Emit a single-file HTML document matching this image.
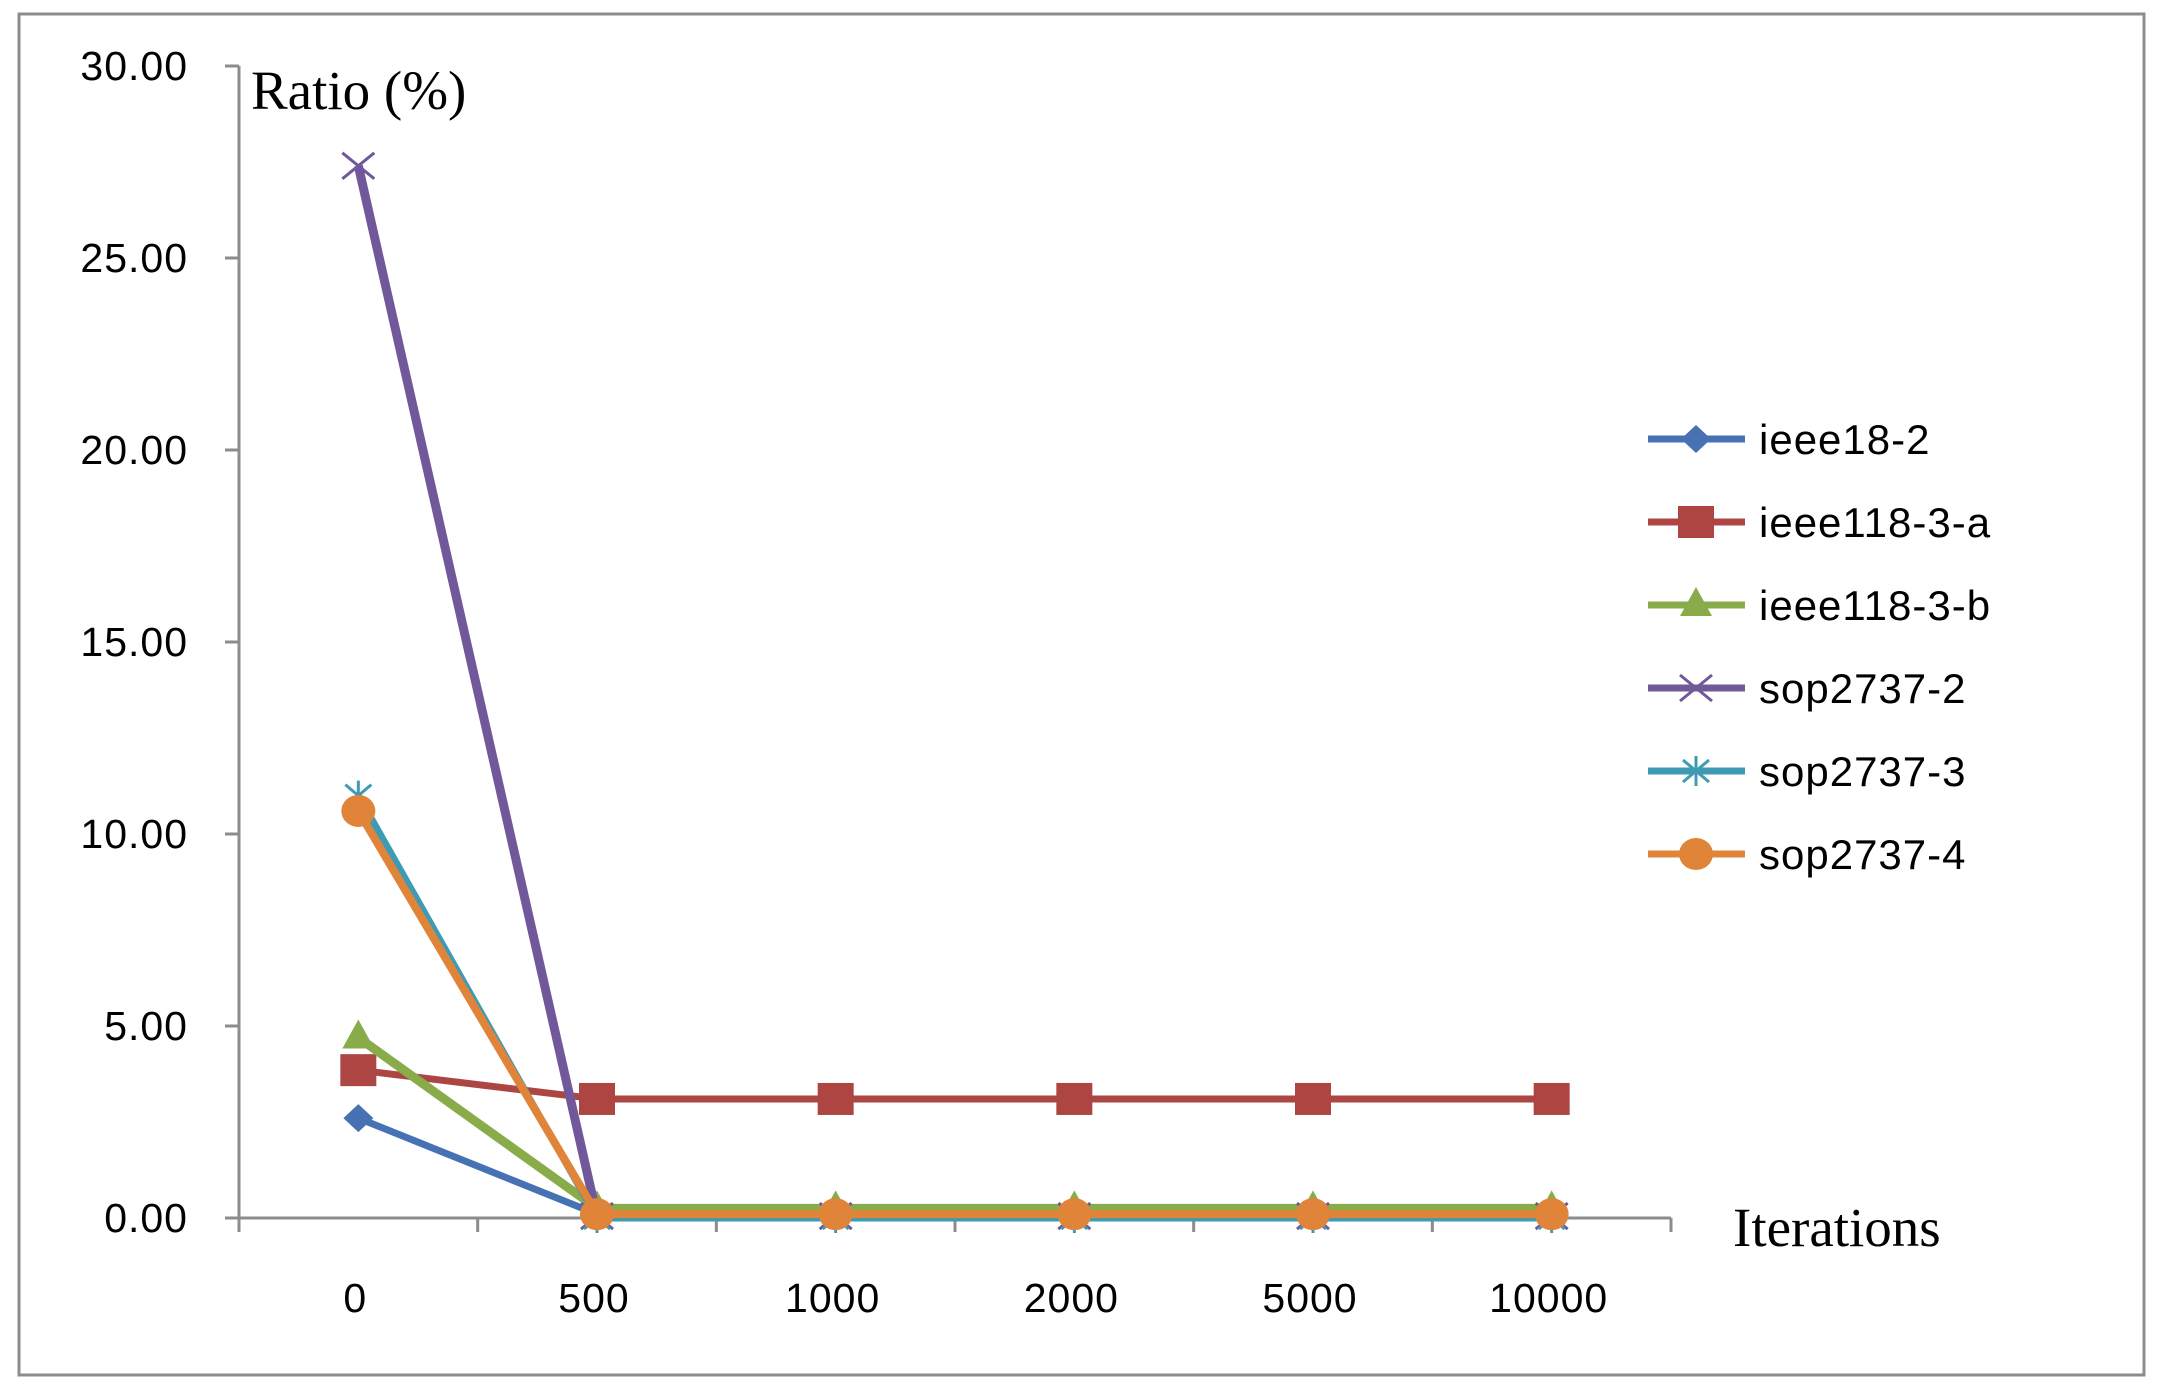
<!DOCTYPE html>
<html><head><meta charset="utf-8"><style>
html,body{margin:0;padding:0;background:#fff;}
svg{display:block;}
.tk{font-family:"Liberation Sans",sans-serif;font-size:41px;fill:#000;letter-spacing:1px;}
.lg{font-family:"Liberation Sans",sans-serif;font-size:42px;fill:#000;letter-spacing:1px;}
.ti{font-family:"Liberation Serif",serif;font-size:55px;fill:#000;}
</style></head><body>
<svg id="chart" width="2163" height="1396" viewBox="0 0 2163 1396" xmlns="http://www.w3.org/2000/svg">
<rect x="19" y="14" width="2125" height="1361" fill="#fff" stroke="#8c8c8c" stroke-width="3"/>
<g id="axes"></g>
<g id="series"></g>
<g id="legend"></g>
<text class="ti" x="251" y="109">Ratio (%)</text>
<text class="ti" x="1733" y="1246">Iterations</text>
</svg>
<script>
const categories = ["0","500","1000","2000","5000","10000"];
const yTicks = [0,5,10,15,20,25,30];
const seriesNames = ["ieee18-2","ieee118-3-a","ieee118-3-b","sop2737-2","sop2737-3","sop2737-4"];
const ieee18_2 = [2.6,0.1,0.1,0.1,0.1,0.1];
const ieee118_3a = [3.85,3.1,3.1,3.1,3.1,3.1];
const ieee118_3b = [4.7,0.25,0.25,0.25,0.25,0.25];
const sop2737_2 = [27.4,0.05,0.05,0.05,0.05,0.05];
const sop2737_3 = [11.0,0.0,0.0,0.0,0.0,0.0];
const sop2737_4 = [10.6,0.1,0.1,0.1,0.1,0.1];

const NS="http://www.w3.org/2000/svg";
const X0=239, X1=1671, Y0=1218, Y30=66;
const bw=(X1-X0)/categories.length;
function xs(i){return X0+bw*(i+0.5);}
function ys(v){return Y0-(v/30)*(Y0-Y30);}
function mk(t,a,p){const e=document.createElementNS(NS,t);for(const k in a)e.setAttribute(k,a[k]);p.appendChild(e);return e;}
const axes=document.getElementById('axes');
let l=mk('line',{x1:X0,y1:ys(30),x2:X0,y2:Y0,stroke:'#8c8c8c','stroke-width':3},axes);


yTicks.forEach(v=>{
  const t=mk('line',{x1:X0-14,y1:ys(v),x2:X0,y2:ys(v),stroke:'#8c8c8c','stroke-width':3},axes);
  
  
  const tx=mk('text',{x:188,y:ys(v)+14,'text-anchor':'end',class:'tk'},axes);
  tx.textContent=v.toFixed(2);
  
  
});
l=mk('line',{x1:X0,y1:Y0,x2:X1,y2:Y0,stroke:'#8c8c8c','stroke-width':3},axes);


for(let i=0;i<=categories.length;i++){
  const t=mk('line',{x1:X0+bw*i,y1:Y0,x2:X0+bw*i,y2:Y0+14,stroke:'#8c8c8c','stroke-width':3},axes);
  
  
}
categories.forEach((c,i)=>{
  const tx=mk('text',{x:xs(i)-3,y:1312,'text-anchor':'middle',class:'tk'},axes);
  tx.textContent=c;
  
  
});
const colors=['#4672b4','#ad4543','#8aab4a','#71589a','#3d9bb3','#e0843a'];
const shapes=['diamond','square','triangle','x','star','circle'];
const data=[ieee18_2,ieee118_3a,ieee118_3b,sop2737_2,sop2737_3,sop2737_4];
const widths=[7,7,9,9,7,8];
function marker(g,s,x,y,c){
  let e;
  if(s==='diamond')e=mk('polygon',{points:`${x},${y-14} ${x+15},${y} ${x},${y+14} ${x-15},${y}`,fill:c},g);
  else if(s==='square')e=mk('rect',{x:x-18,y:y-16,width:36,height:32,fill:c},g);
  else if(s==='triangle')e=mk('polygon',{points:`${x},${y-18} ${x+16},${y+11} ${x-16},${y+11}`,fill:c},g);
  else if(s==='x')e=mk('path',{d:`M${x-16},${y-13}L${x+16},${y+13}M${x-16},${y+13}L${x+16},${y-13}`,stroke:c,'stroke-width':3},g);
  else if(s==='star')e=mk('path',{d:`M${x-13},${y-11}L${x+13},${y+11}M${x-13},${y+11}L${x+13},${y-11}M${x},${y-15}L${x},${y+15}`,stroke:c,'stroke-width':3},g);
  else e=mk('ellipse',{cx:x,cy:y,rx:17,ry:16,fill:c},g);
  
  
}
const sg=document.getElementById('series');
data.forEach((arr,k)=>{
  const g=mk('g',{},sg);
  
  
  const p=mk('polyline',{points:arr.map((v,i)=>xs(i)+','+ys(v)).join(' '),fill:'none',stroke:colors[k],'stroke-width':widths[k],'stroke-linejoin':'round'},g);
  
  
  arr.forEach((v,i)=>marker(g,shapes[k],xs(i),ys(v),colors[k]));
});
const lg=document.getElementById('legend');
seriesNames.forEach((n,k)=>{
  const y=439+k*83;
  const g=mk('g',{},lg);
  
  
  mk('line',{x1:1648,y1:y,x2:1745,y2:y,stroke:colors[k],'stroke-width':7},g);
  marker(g,shapes[k],1696,y,colors[k]);
  const t=mk('text',{x:1759,y:y+15,class:'lg'},g);
  t.textContent=n;
  
  
});
</script>
</body></html>
